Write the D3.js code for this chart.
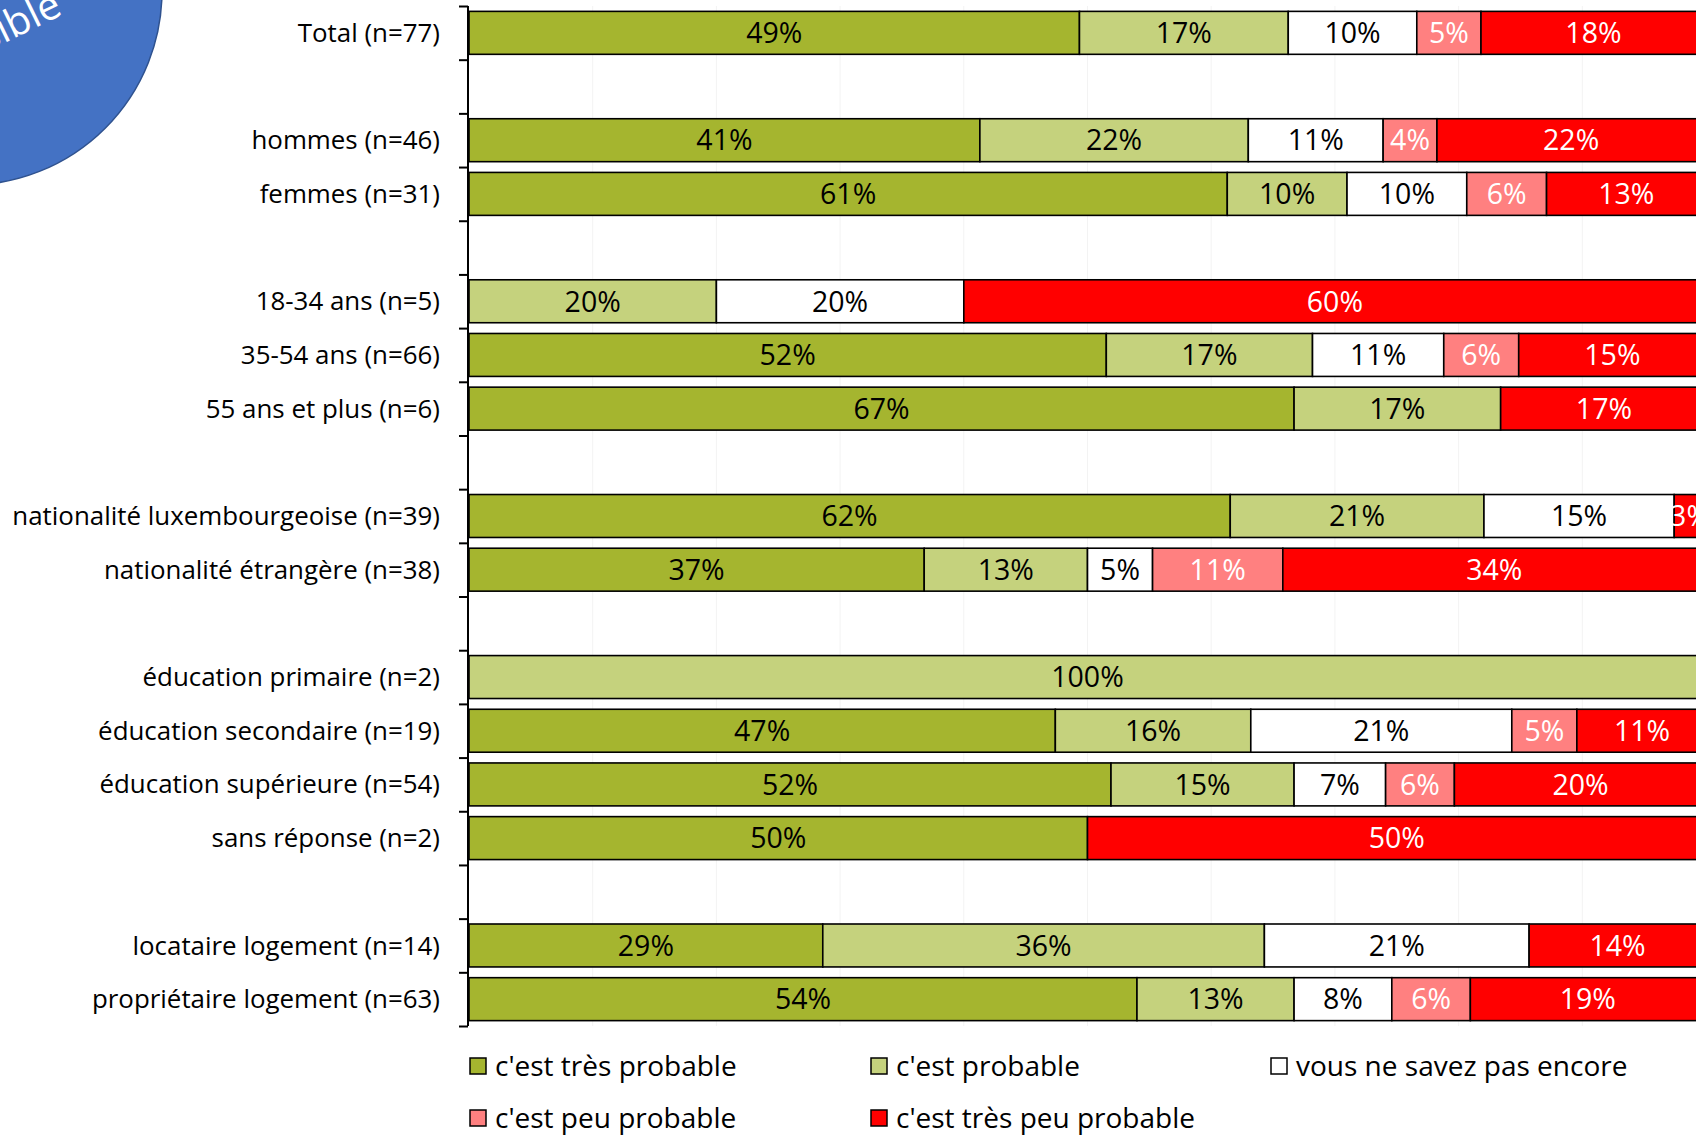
<!DOCTYPE html>
<html>
<head>
<meta charset="utf-8">
<script src="https://cdn.jsdelivr.net/npm/d3@7"></script>
<style>
  html, body { margin: 0; padding: 0; background: #fff; overflow: hidden; }
  svg { display: block; font-family: "Open Sans", sans-serif; }
</style>
</head>
<body>
<svg id="chart" width="1696" height="1135"></svg>
<script>
// ---- DATA ----
const categories = [
  "Total (n=77)", "",
  "hommes (n=46)", "femmes (n=31)", "",
  "18-34 ans (n=5)", "35-54 ans (n=66)", "55 ans et plus (n=6)", "",
  "nationalité luxembourgeoise (n=39)", "nationalité étrangère (n=38)", "",
  "éducation primaire (n=2)", "éducation secondaire (n=19)", "éducation supérieure (n=54)", "sans réponse (n=2)", "",
  "locataire logement (n=14)", "propriétaire logement (n=63)"
];
const seriesNames = ["c'est très probable", "c'est probable", "vous ne savez pas encore", "c'est peu probable", "c'est très peu probable"];
const tresProbable   = [49.35, 0, 41.3, 61.3, 0,  0.0, 51.52, 66.7, 0, 61.54, 36.8, 0,   0.0, 47.4, 51.9, 50.0, 0, 28.6, 54.0];
const probable       = [16.88, 0, 21.7,  9.68, 0, 20.0, 16.67, 16.7, 0, 20.51, 13.2, 0, 100.0, 15.8, 14.8,  0.0, 0, 35.7, 12.7];
const neSaitPas      = [10.39, 0, 10.9,  9.68, 0, 20.0, 10.61,  0.0, 0, 15.38,  5.26, 0,   0.0, 21.1,  7.4,  0.0, 0, 21.4,  7.9];
const peuProbable    = [ 5.19, 0,  4.35, 6.45, 0,  0.0,  6.06,  0.0, 0,  0.0, 10.53, 0,   0.0,  5.26, 5.56, 0.0, 0,  0.0,  6.35];
const tresPeuProbable= [18.18, 0, 21.7, 12.9,  0, 60.0, 15.15, 16.7, 0,  2.56, 34.2, 0,   0.0, 10.53, 20.4, 50.0, 0, 14.3, 19.0];
const colors = ["#A5B52F", "#C5D27D", "#FFFFFF", "#FF8080", "#FF0000"];
const labelColors = ["#000", "#000", "#000", "#fff", "#fff"];
const xTicks = [0, 10, 20, 30, 40, 50, 60, 70, 80, 90, 100];

// ---- BUILD ----
const keys = ["s0", "s1", "s2", "s3", "s4"];
const seriesArrays = [tresProbable, probable, neSaitPas, peuProbable, tresPeuProbable];
const rows = categories.map((c, i) => {
  const r = { idx: i, cat: c };
  keys.forEach((k, j) => r[k] = seriesArrays[j][i]);
  return r;
});
const stacked = d3.stack().keys(keys)(rows);

const svg = d3.select("#chart");
svg.append("rect").attr("width", 1696).attr("height", 1135).attr("fill", "#fff");

const x = d3.scaleLinear().domain([0, 100]).range([469, 1706]);
const y = d3.scaleBand().domain(d3.range(categories.length)).range([6, 1026]).paddingInner(0.2).paddingOuter(0.1);
const yEdge = d3.scaleLinear().domain([0, categories.length]).range([6, 1026]);

// faint gridlines
svg.append("g").selectAll("line").data(xTicks.slice(1)).join("line")
  .attr("x1", d => x(d)).attr("x2", d => x(d))
  .attr("y1", 6).attr("y2", 1026)
  .attr("stroke", "#f3f3f3").attr("stroke-width", 1);

// bars
const layer = svg.append("g").selectAll("g").data(stacked).join("g")
  .attr("fill", (d, i) => colors[i]);
layer.selectAll("rect").data(d => d.filter(p => p[1] - p[0] > 0)).join("rect")
  .attr("x", p => x(p[0]))
  .attr("width", p => x(p[1]) - x(p[0]))
  .attr("y", p => y(p.data.idx))
  .attr("height", y.bandwidth())
  .attr("stroke", "#000").attr("stroke-width", 1.6);

// data labels
const fmt = v => d3.format(".0f")(v) + "%";
svg.append("g").selectAll("g").data(stacked).join("g")
  .attr("fill", (d, i) => labelColors[i])
  .selectAll("text").data(d => d.filter(p => p[1] - p[0] > 0)).join("text")
  .attr("x", p => (x(p[0]) + x(p[1])) / 2)
  .attr("y", p => y(p.data.idx) + y.bandwidth() / 2)
  .attr("dy", "0.36em")
  .attr("text-anchor", "middle")
  .attr("font-size", 28.5)
  .text(p => fmt(p[1] - p[0]));

// y axis with ticks at band edges
const axis = d3.axisLeft(yEdge).tickValues(d3.range(categories.length + 1)).tickSize(9).tickFormat("");
const ag = svg.append("g").attr("transform", "translate(468,0)").call(axis);
ag.select(".domain").attr("stroke", "#000").attr("stroke-width", 2).attr("d", "M0,6V1026");
ag.selectAll(".tick line").attr("stroke", "#000").attr("stroke-width", 2);

// category labels
svg.append("g").selectAll("text").data(rows.filter(r => r.cat !== "")).join("text")
  .attr("x", 440)
  .attr("y", r => y(r.idx) + y.bandwidth() / 2)
  .attr("dy", "0.35em")
  .attr("text-anchor", "end")
  .attr("font-size", 25.9)
  .attr("fill", "#000")
  .text(r => r.cat);

// legend
const legendPos = [[470, 1066], [871, 1066], [1271, 1066], [470, 1118], [871, 1118]];
const lg = svg.append("g").selectAll("g").data(seriesNames).join("g")
  .attr("transform", (d, i) => `translate(${legendPos[i][0]},${legendPos[i][1]})`);
lg.append("rect").attr("x", 0).attr("y", -8).attr("width", 16).attr("height", 16)
  .attr("fill", (d, i) => colors[i]).attr("stroke", "#000").attr("stroke-width", 1.5);
lg.append("text").attr("x", 25).attr("y", 0).attr("dy", "0.35em")
  .attr("font-size", 28).attr("fill", "#000").text(d => d);

// decorative circle in the corner
svg.append("circle").attr("cx", -32).attr("cy", -9).attr("r", 194)
  .attr("fill", "#4472C4").attr("stroke", "#2F528F").attr("stroke-width", 1.5);
svg.append("text")
  .attr("transform", "translate(64,14) rotate(-26)")
  .attr("text-anchor", "end")
  .attr("font-size", 40).attr("fill", "#fff")
  .text("possible");
</script>
</body>
</html>
